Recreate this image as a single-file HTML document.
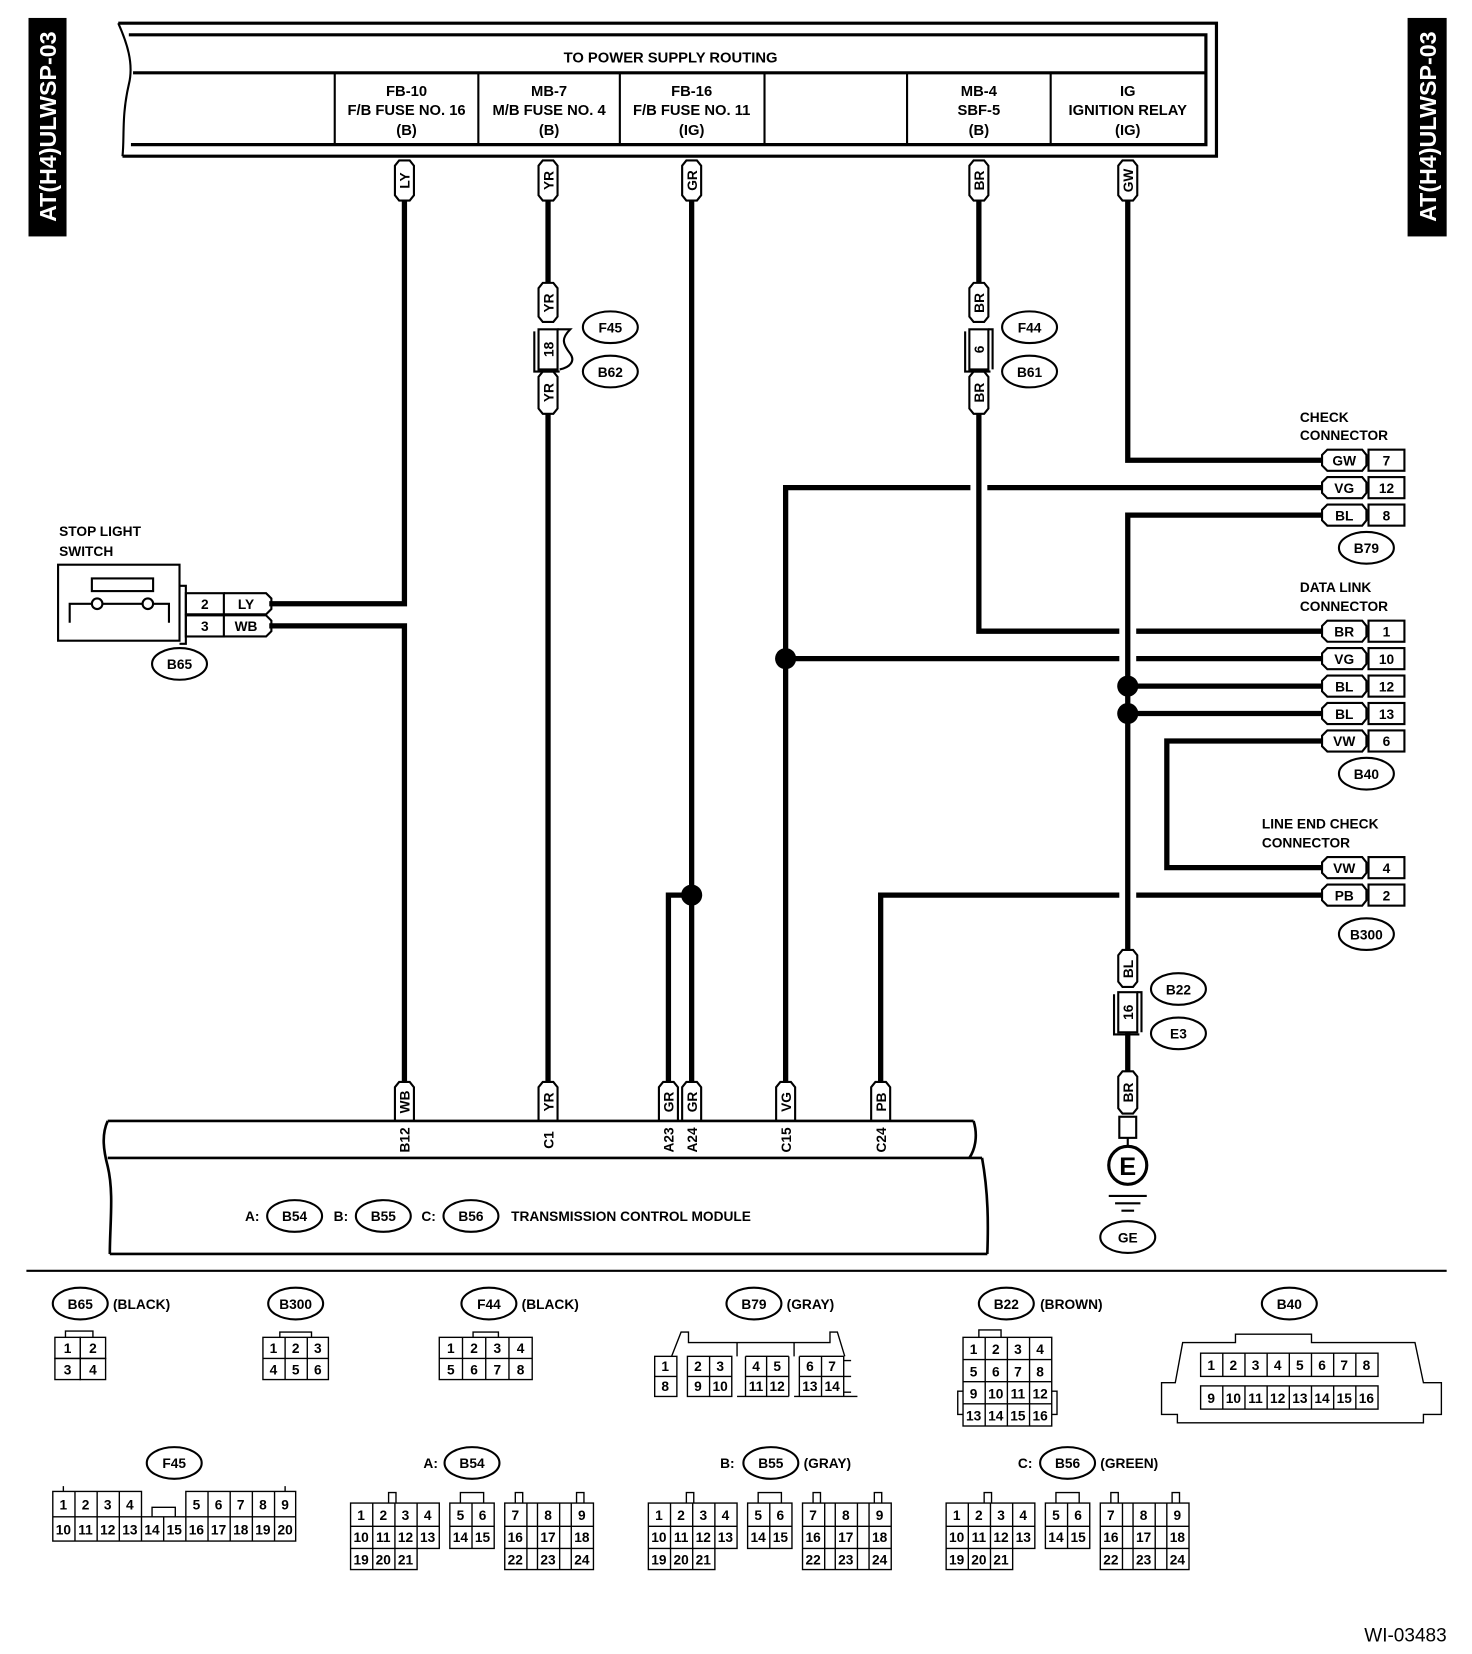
<!DOCTYPE html>
<html><head><meta charset="utf-8"><style>
html,body{margin:0;padding:0;background:#fff}
svg{display:block}
text{font-family:"Liberation Sans",sans-serif;font-weight:bold;fill:#000}
.h{font-size:14px}
.l{font-size:13px}
.c{font-size:13px;font-weight:normal}
.w{fill:#fff;font-size:22px}
</style></head><body>
<svg width="1472" height="1654" viewBox="0 0 1394 1567" preserveAspectRatio="none" xmlns="http://www.w3.org/2000/svg">
<rect x="0" y="0" width="1394" height="1567" fill="#fff"/>
<rect x="27" y="17" width="36" height="207" fill="#000"/>
<text class="w" transform="translate(53,120) rotate(-90)" text-anchor="middle">AT(H4)ULWSP-03</text>
<rect x="1333" y="17" width="37" height="207" fill="#000"/>
<text class="w" transform="translate(1360,120) rotate(-90)" text-anchor="middle">AT(H4)ULWSP-03</text>

<g fill="none" stroke="#000" stroke-width="3">
<path d="M112,22 H1152 V148 H116"/>
<path d="M122,33 H1142 V137 H124"/>
<path d="M126,69 H1142"/>
<path d="M112,22 C120,40 127,60 122,80 C115,110 118,130 116,148" stroke-width="2"/>
<path d="M317,69 V137 M453,69 V137 M587,69 V137 M724,69 V137 M859,69 V137 M995,69 V137" stroke-width="2"/>
</g>
<text class="h" x="635" y="59" text-anchor="middle">TO POWER SUPPLY ROUTING</text>
<g class="h" text-anchor="middle">
<text x="385" y="91">FB-10</text><text x="385" y="109">F/B FUSE NO. 16</text><text x="385" y="128">(B)</text>
<text x="520" y="91">MB-7</text><text x="520" y="109">M/B FUSE NO. 4</text><text x="520" y="128">(B)</text>
<text x="655" y="91">FB-16</text><text x="655" y="109">F/B FUSE NO. 11</text><text x="655" y="128">(IG)</text>
<text x="927" y="91">MB-4</text><text x="927" y="109">SBF-5</text><text x="927" y="128">(B)</text>
<text x="1068" y="91">IG</text><text x="1068" y="109">IGNITION RELAY</text><text x="1068" y="128">(IG)</text>
</g>

<g fill="none" stroke="#000" stroke-width="5">
<path d="M383,190 V572 H255"/>
<path d="M255,593 H383 V1025"/>
<path d="M519,190 V268 M519,392 V1025"/>
<path d="M655,190 V1025"/>
<path d="M655,848 H633 V1025"/>
<path d="M927,190 V268 M927,392 V598 H1060 M1076,598 H1252"/>
<path d="M1068,190 V436 H1252"/>
<path d="M1252,462 H935 M919,462 H744 V1025"/>
<path d="M744,624 H1060 M1076,624 H1252"/>
<path d="M1252,488 H1068 V900"/>
<path d="M1068,650 H1252 M1068,676 H1252"/>
<path d="M1252,702 H1105 V822 H1252"/>
<path d="M1252,848 H1076 M1060,848 H834 V1025"/>
<path d="M1068,978 V1015"/>
</g>
<g fill="#000">
<circle cx="655" cy="848" r="10"/><circle cx="744" cy="624" r="10"/>
<circle cx="1068" cy="650" r="10"/><circle cx="1068" cy="676" r="10"/>
</g>

<g fill="#fff" stroke="#000" stroke-width="2">
<polygon points="374,157 378,152 388,152 392,157 392,185 388,190 378,190 374,185"/>
<polygon points="510,157 514,152 524,152 528,157 528,185 524,190 514,190 510,185"/>
<polygon points="646,157 650,152 660,152 664,157 664,185 660,190 650,190 646,185"/>
<polygon points="918,157 922,152 932,152 936,157 936,185 932,190 922,190 918,185"/>
<polygon points="1059,157 1063,152 1073,152 1077,157 1077,185 1073,190 1063,190 1059,185"/>
<polygon points="510,273 514,268 524,268 528,273 528,300 524,305 514,305 510,300"/>
<polygon points="510,357 514,352 524,352 528,357 528,387 524,392 514,392 510,387"/>
<polygon points="918,273 922,268 932,268 936,273 936,300 932,305 922,305 918,300"/>
<polygon points="918,357 922,352 932,352 936,357 936,387 932,392 922,392 918,387"/>
<polygon points="1059,905 1063,900 1073,900 1077,905 1077,930 1073,935 1063,935 1059,930"/>
<polygon points="1059,1020 1063,1015 1073,1015 1077,1020 1077,1050 1073,1055 1063,1055 1059,1050"/>
<polygon points="374,1030 378,1025 388,1025 392,1030 392,1062 374,1062"/>
<polygon points="510,1030 514,1025 524,1025 528,1030 528,1062 510,1062"/>
<polygon points="624,1030 628,1025 638,1025 642,1030 642,1062 624,1062"/>
<polygon points="646,1030 650,1025 660,1025 664,1030 664,1062 646,1062"/>
<polygon points="735,1030 739,1025 749,1025 753,1030 753,1062 735,1062"/>
<polygon points="825,1030 829,1025 839,1025 843,1030 843,1062 825,1062"/>
</g>
<g class="l" text-anchor="middle">
<text transform="translate(388,171) rotate(-90)">LY</text>
<text transform="translate(524,171) rotate(-90)">YR</text>
<text transform="translate(660,171) rotate(-90)">GR</text>
<text transform="translate(932,171) rotate(-90)">BR</text>
<text transform="translate(1073,171) rotate(-90)">GW</text>
<text transform="translate(524,287) rotate(-90)">YR</text>
<text transform="translate(524,372) rotate(-90)">YR</text>
<text transform="translate(932,287) rotate(-90)">BR</text>
<text transform="translate(932,372) rotate(-90)">BR</text>
<text transform="translate(1073,918) rotate(-90)">BL</text>
<text transform="translate(1073,1035) rotate(-90)">BR</text>
<text transform="translate(388,1044) rotate(-90)">WB</text>
<text transform="translate(524,1044) rotate(-90)">YR</text>
<text transform="translate(638,1044) rotate(-90)">GR</text>
<text transform="translate(660,1044) rotate(-90)">GR</text>
<text transform="translate(749,1044) rotate(-90)">VG</text>
<text transform="translate(839,1044) rotate(-90)">PB</text>
</g>

<g fill="none" stroke="#000" stroke-width="2">
<rect x="510" y="312" width="18" height="38" fill="#fff"/>
<path d="M506,314 V352 H530 M528,312 H540 C532,320 532,325 540,335 C545,342 540,348 530,350"/>
<rect x="918" y="312" width="18" height="38" fill="#fff"/>
<path d="M914,314 V352 H938 M936,312 H940 V350"/>
<rect x="1059" y="940" width="18" height="38" fill="#fff"/>
<path d="M1055,942 V980 H1079 M1077,940 H1081 V978"/>
</g>
<text class="l" text-anchor="middle" transform="translate(524,331) rotate(-90)">18</text>
<text class="l" text-anchor="middle" transform="translate(932,331) rotate(-90)">6</text>
<text class="l" text-anchor="middle" transform="translate(1073,959) rotate(-90)">16</text>

<g fill="#fff" stroke="#000" stroke-width="2">
<ellipse cx="578" cy="310" rx="26" ry="15"/><ellipse cx="578" cy="352" rx="26" ry="15"/>
<ellipse cx="975" cy="310" rx="26" ry="15"/><ellipse cx="975" cy="352" rx="26" ry="15"/>
<ellipse cx="1294" cy="519" rx="26" ry="15"/><ellipse cx="1294" cy="733" rx="26" ry="15"/>
<ellipse cx="1294" cy="885" rx="26" ry="15"/><ellipse cx="1116" cy="937" rx="26" ry="15"/>
<ellipse cx="1116" cy="979" rx="26" ry="15"/><ellipse cx="170" cy="629" rx="26" ry="15"/>
<ellipse cx="1068" cy="1172" rx="26" ry="15"/>
<ellipse cx="279" cy="1152" rx="26" ry="15"/><ellipse cx="363" cy="1152" rx="26" ry="15"/><ellipse cx="446" cy="1152" rx="26" ry="15"/>
<ellipse cx="76" cy="1235" rx="26" ry="15"/><ellipse cx="280" cy="1235" rx="26" ry="15"/><ellipse cx="463" cy="1235" rx="26" ry="15"/>
<ellipse cx="714" cy="1235" rx="26" ry="15"/><ellipse cx="953" cy="1235" rx="26" ry="15"/><ellipse cx="1221" cy="1235" rx="26" ry="15"/>
<ellipse cx="165" cy="1386" rx="26" ry="15"/><ellipse cx="447" cy="1386" rx="26" ry="15"/><ellipse cx="730" cy="1386" rx="26" ry="15"/><ellipse cx="1011" cy="1386" rx="26" ry="15"/>
</g>
<g class="l" text-anchor="middle">
<text x="578" y="315">F45</text><text x="578" y="357">B62</text>
<text x="975" y="315">F44</text><text x="975" y="357">B61</text>
<text x="1294" y="524">B79</text><text x="1294" y="738">B40</text><text x="1294" y="890">B300</text>
<text x="1116" y="942">B22</text><text x="1116" y="984">E3</text><text x="170" y="634">B65</text>
<text x="1068" y="1177">GE</text>
<text x="279" y="1157">B54</text><text x="363" y="1157">B55</text><text x="446" y="1157">B56</text>
<text x="76" y="1240">B65</text><text x="280" y="1240">B300</text><text x="463" y="1240">F44</text>
<text x="714" y="1240">B79</text><text x="953" y="1240">B22</text><text x="1221" y="1240">B40</text>
<text x="165" y="1391">F45</text><text x="447" y="1391">B54</text><text x="730" y="1391">B55</text><text x="1011" y="1391">B56</text>
</g>

<text class="l" x="56" y="508">STOP LIGHT</text><text class="l" x="56" y="527">SWITCH</text>
<g fill="none" stroke="#000" stroke-width="2">
<rect x="55" y="535" width="115" height="72"/>
<rect x="87" y="548" width="58" height="12"/>
<path d="M66,590 V572 H87 M97,572 H135 M145,572 H160 V590"/>
<circle cx="92" cy="572" r="5" fill="#fff"/><circle cx="140" cy="572" r="5" fill="#fff"/>
<path d="M170,555 H176 V610 H170"/>
<rect x="176" y="562" width="36" height="20"/><rect x="176" y="583" width="36" height="20"/>
<path d="M212,562 H252 L257,567 V577 L252,582 H212 M212,583 H252 L257,588 V598 L252,603 H212"/>
</g>
<g class="l" text-anchor="middle"><text x="194" y="577">2</text><text x="194" y="598">3</text><text x="233" y="577">LY</text><text x="233" y="598">WB</text></g>

<g class="l">
<text x="1231" y="400">CHECK</text><text x="1231" y="417">CONNECTOR</text>
<text x="1231" y="561">DATA LINK</text><text x="1231" y="579">CONNECTOR</text>
<text x="1195" y="785">LINE END CHECK</text><text x="1195" y="803">CONNECTOR</text>
</g>
<g fill="#fff" stroke="#000" stroke-width="2">
<path d="M1257,426 H1290 L1294,431 V441 L1290,446 H1257 L1252,441 V431 Z"/><rect x="1296" y="426" width="34" height="20"/>
<path d="M1257,452 H1290 L1294,457 V467 L1290,472 H1257 L1252,467 V457 Z"/><rect x="1296" y="452" width="34" height="20"/>
<path d="M1257,478 H1290 L1294,483 V493 L1290,498 H1257 L1252,493 V483 Z"/><rect x="1296" y="478" width="34" height="20"/>
<path d="M1257,588 H1290 L1294,593 V603 L1290,608 H1257 L1252,603 V593 Z"/><rect x="1296" y="588" width="34" height="20"/>
<path d="M1257,614 H1290 L1294,619 V629 L1290,634 H1257 L1252,629 V619 Z"/><rect x="1296" y="614" width="34" height="20"/>
<path d="M1257,640 H1290 L1294,645 V655 L1290,660 H1257 L1252,655 V645 Z"/><rect x="1296" y="640" width="34" height="20"/>
<path d="M1257,666 H1290 L1294,671 V681 L1290,686 H1257 L1252,681 V671 Z"/><rect x="1296" y="666" width="34" height="20"/>
<path d="M1257,692 H1290 L1294,697 V707 L1290,712 H1257 L1252,707 V697 Z"/><rect x="1296" y="692" width="34" height="20"/>
<path d="M1257,812 H1290 L1294,817 V827 L1290,832 H1257 L1252,827 V817 Z"/><rect x="1296" y="812" width="34" height="20"/>
<path d="M1257,838 H1290 L1294,843 V853 L1290,858 H1257 L1252,853 V843 Z"/><rect x="1296" y="838" width="34" height="20"/>
</g>
<g class="l" text-anchor="middle">
<text x="1273" y="441">GW</text><text x="1313" y="441">7</text>
<text x="1273" y="467">VG</text><text x="1313" y="467">12</text>
<text x="1273" y="493">BL</text><text x="1313" y="493">8</text>
<text x="1273" y="603">BR</text><text x="1313" y="603">1</text>
<text x="1273" y="629">VG</text><text x="1313" y="629">10</text>
<text x="1273" y="655">BL</text><text x="1313" y="655">12</text>
<text x="1273" y="681">BL</text><text x="1313" y="681">13</text>
<text x="1273" y="707">VW</text><text x="1313" y="707">6</text>
<text x="1273" y="827">VW</text><text x="1313" y="827">4</text>
<text x="1273" y="853">PB</text><text x="1313" y="853">2</text>
</g>

<g fill="none" stroke="#000" stroke-width="2">
<rect x="1060" y="1058" width="16" height="20" fill="#fff"/>
<circle cx="1068" cy="1104" r="18" stroke-width="3" fill="#fff"/>
<path d="M1068,1078 V1086 M1050,1133 H1086 M1056,1140 H1080 M1062,1147 H1074"/>
</g>
<text x="1068" y="1113" text-anchor="middle" style="font-size:24px">E</text>

<g fill="none" stroke="#000" stroke-width="2.5">
<path d="M102,1062 H922 M102,1097 H930 M104,1188 H935"/>
<path d="M102,1062 C96,1075 98,1090 102,1105 C108,1130 104,1160 104,1188"/>
<path d="M922,1062 C926,1075 924,1088 918,1097 M930,1097 C936,1130 936,1160 935,1188"/>
</g>
<g class="l" text-anchor="middle">
<text transform="translate(388,1080) rotate(-90)">B12</text>
<text transform="translate(524,1080) rotate(-90)">C1</text>
<text transform="translate(638,1080) rotate(-90)">A23</text>
<text transform="translate(660,1080) rotate(-90)">A24</text>
<text transform="translate(749,1080) rotate(-90)">C15</text>
<text transform="translate(839,1080) rotate(-90)">C24</text>
</g>
<g class="l"><text x="232" y="1157">A:</text><text x="316" y="1157">B:</text><text x="399" y="1157">C:</text><text x="484" y="1157">TRANSMISSION CONTROL MODULE</text></g>
<path d="M25,1204 H1370" stroke="#000" stroke-width="2"/>

<g class="l">
<text x="107" y="1240">(BLACK)</text><text x="494" y="1240">(BLACK)</text><text x="745" y="1240">(GRAY)</text><text x="985" y="1240">(BROWN)</text>
<text x="401" y="1391">A:</text><text x="682" y="1391">B:</text><text x="761" y="1391">(GRAY)</text><text x="964" y="1391">C:</text><text x="1042" y="1391">(GREEN)</text>
</g>

<g fill="none" stroke="#000" stroke-width="1.3">
<rect x="52" y="1267" width="24" height="20"/><rect x="76" y="1267" width="24" height="20"/><rect x="52" y="1287" width="24" height="20"/><rect x="76" y="1287" width="24" height="20"/>
<path d="M62,1267 V1261 H88 V1267"/>
<rect x="249" y="1267" width="62" height="40"/><path d="M249,1287 H311 M270,1267 V1307 M291,1267 V1307 M265,1267 V1262 H295 V1267"/>
<rect x="416" y="1267" width="88" height="40"/><path d="M416,1287 H504 M438,1267 V1307 M460,1267 V1307 M482,1267 V1307 M448,1267 V1262 H472 V1267"/>
<path d="M636,1285 L645,1262 H652 V1272 H786 V1262 H793 L800,1285 M698,1272 V1285 M752,1272 V1285"/>
<rect x="620" y="1285" width="21" height="38"/><path d="M620,1304 H641"/>
<rect x="651" y="1285" width="42" height="38"/><path d="M651,1304 H693 M672,1285 V1323"/>
<path d="M698,1323 H747 M706,1285 V1323 M747,1285 V1323 M706,1285 H747 M706,1304 H747 M726,1285 V1323"/>
<path d="M752,1323 H812 M757,1285 H799 V1323 M757,1285 V1323 M757,1304 H799 M778,1285 V1323 M799,1289 H806 M799,1304 H806 M799,1319 H806"/>
<rect x="912" y="1267" width="84" height="84"/>
<path d="M912,1288 H996 M912,1309 H996 M912,1330 H996 M933,1267 V1351 M954,1267 V1351 M975,1267 V1351 M927,1267 V1260 H948 V1267 M912,1318 H907 V1340 H912 M996,1318 H1001 V1340 H996"/>
<path d="M1170,1272 V1264 H1242 V1272 H1340 L1348,1310 H1365 V1340 H1348 V1348 H1115 V1340 H1100 V1310 H1113 L1120,1272 Z"/>
<rect x="1137" y="1282" width="168" height="22"/><rect x="1137" y="1313" width="168" height="22"/>
<path d="M1158,1282 V1304 M1179,1282 V1304 M1200,1282 V1304 M1221,1282 V1304 M1242,1282 V1304 M1263,1282 V1304 M1284,1282 V1304 M1158,1313 V1335 M1179,1313 V1335 M1200,1313 V1335 M1221,1313 V1335 M1242,1313 V1335 M1263,1313 V1335 M1284,1313 V1335"/>
<path d="M50,1437 V1413 H134 V1437 M176,1437 V1413 H280 V1437 M71,1413 V1460 M92,1413 V1460 M113,1413 V1460 M134,1437 V1460 M197,1413 V1460 M218,1413 V1460 M239,1413 V1460 M260,1413 V1460 M50,1437 H280 V1460 H50 Z M155,1437 V1460 M176,1437 V1460 M144,1437 V1428 H166 V1437 M60,1413 V1408 M270,1413 V1408"/>
</g>
<g id="tc" fill="none" stroke="#000" stroke-width="1.3">
<path d="M332,1424 H416 V1467 H332 Z M332,1446 H416 M353,1424 V1487 M374,1424 V1487 M395,1424 V1467 M332,1467 V1487 H395 V1467"/>
<path d="M426,1424 H468 V1467 H426 Z M426,1446 H468 M447,1424 V1467"/>
<path d="M478,1424 H562 V1487 H478 Z M478,1446 H562 M478,1467 H562 M499,1424 V1487 M509,1424 V1487 M530,1424 V1487 M541,1424 V1487"/>
<path d="M368,1424 V1414 H375 V1424 M436,1424 V1414 H458 V1424 M488,1424 V1414 H495 V1424 M546,1424 V1414 H553 V1424"/>
</g>
<use href="#tc" x="282"/><use href="#tc" x="564"/>

<g class="c" text-anchor="middle">
<text x="64" y="1282">1</text><text x="88" y="1282">2</text><text x="64" y="1302">3</text><text x="88" y="1302">4</text>
<text x="259" y="1282">1</text><text x="280" y="1282">2</text><text x="301" y="1282">3</text><text x="259" y="1302">4</text><text x="280" y="1302">5</text><text x="301" y="1302">6</text>
<text x="427" y="1282">1</text><text x="449" y="1282">2</text><text x="471" y="1282">3</text><text x="493" y="1282">4</text><text x="427" y="1302">5</text><text x="449" y="1302">6</text><text x="471" y="1302">7</text><text x="493" y="1302">8</text>
<text x="630" y="1299">1</text><text x="661" y="1299">2</text><text x="682" y="1299">3</text><text x="716" y="1299">4</text><text x="736" y="1299">5</text><text x="767" y="1299">6</text><text x="788" y="1299">7</text>
<text x="630" y="1318">8</text><text x="661" y="1318">9</text><text x="682" y="1318">10</text><text x="716" y="1318">11</text><text x="736" y="1318">12</text><text x="767" y="1318">13</text><text x="788" y="1318">14</text>
<text x="922" y="1283">1</text><text x="943" y="1283">2</text><text x="964" y="1283">3</text><text x="985" y="1283">4</text>
<text x="922" y="1304">5</text><text x="943" y="1304">6</text><text x="964" y="1304">7</text><text x="985" y="1304">8</text>
<text x="922" y="1325">9</text><text x="943" y="1325">10</text><text x="964" y="1325">11</text><text x="985" y="1325">12</text>
<text x="922" y="1346">13</text><text x="943" y="1346">14</text><text x="964" y="1346">15</text><text x="985" y="1346">16</text>
<text x="1147" y="1298">1</text><text x="1168" y="1298">2</text><text x="1189" y="1298">3</text><text x="1210" y="1298">4</text><text x="1231" y="1298">5</text><text x="1252" y="1298">6</text><text x="1273" y="1298">7</text><text x="1294" y="1298">8</text>
<text x="1147" y="1329">9</text><text x="1168" y="1329">10</text><text x="1189" y="1329">11</text><text x="1210" y="1329">12</text><text x="1231" y="1329">13</text><text x="1252" y="1329">14</text><text x="1273" y="1329">15</text><text x="1294" y="1329">16</text>
<text x="60" y="1430">1</text><text x="81" y="1430">2</text><text x="102" y="1430">3</text><text x="123" y="1430">4</text><text x="186" y="1430">5</text><text x="207" y="1430">6</text><text x="228" y="1430">7</text><text x="249" y="1430">8</text><text x="270" y="1430">9</text>
<text x="60" y="1454">10</text><text x="81" y="1454">11</text><text x="102" y="1454">12</text><text x="123" y="1454">13</text><text x="144" y="1454">14</text><text x="165" y="1454">15</text><text x="186" y="1454">16</text><text x="207" y="1454">17</text><text x="228" y="1454">18</text><text x="249" y="1454">19</text><text x="270" y="1454">20</text>
</g>
<g class="c" text-anchor="middle">
<text x="342" y="1440">1</text><text x="363" y="1440">2</text><text x="384" y="1440">3</text><text x="405" y="1440">4</text><text x="436" y="1440">5</text><text x="457" y="1440">6</text><text x="488" y="1440">7</text><text x="519" y="1440">8</text><text x="551" y="1440">9</text>
<text x="342" y="1461">10</text><text x="363" y="1461">11</text><text x="384" y="1461">12</text><text x="405" y="1461">13</text><text x="436" y="1461">14</text><text x="457" y="1461">15</text><text x="488" y="1461">16</text><text x="519" y="1461">17</text><text x="551" y="1461">18</text>
<text x="342" y="1482">19</text><text x="363" y="1482">20</text><text x="384" y="1482">21</text><text x="488" y="1482">22</text><text x="519" y="1482">23</text><text x="551" y="1482">24</text>
<text x="624" y="1440">1</text><text x="645" y="1440">2</text><text x="666" y="1440">3</text><text x="687" y="1440">4</text><text x="718" y="1440">5</text><text x="739" y="1440">6</text><text x="770" y="1440">7</text><text x="801" y="1440">8</text><text x="833" y="1440">9</text>
<text x="624" y="1461">10</text><text x="645" y="1461">11</text><text x="666" y="1461">12</text><text x="687" y="1461">13</text><text x="718" y="1461">14</text><text x="739" y="1461">15</text><text x="770" y="1461">16</text><text x="801" y="1461">17</text><text x="833" y="1461">18</text>
<text x="624" y="1482">19</text><text x="645" y="1482">20</text><text x="666" y="1482">21</text><text x="770" y="1482">22</text><text x="801" y="1482">23</text><text x="833" y="1482">24</text>
<text x="906" y="1440">1</text><text x="927" y="1440">2</text><text x="948" y="1440">3</text><text x="969" y="1440">4</text><text x="1000" y="1440">5</text><text x="1021" y="1440">6</text><text x="1052" y="1440">7</text><text x="1083" y="1440">8</text><text x="1115" y="1440">9</text>
<text x="906" y="1461">10</text><text x="927" y="1461">11</text><text x="948" y="1461">12</text><text x="969" y="1461">13</text><text x="1000" y="1461">14</text><text x="1021" y="1461">15</text><text x="1052" y="1461">16</text><text x="1083" y="1461">17</text><text x="1115" y="1461">18</text>
<text x="906" y="1482">19</text><text x="927" y="1482">20</text><text x="948" y="1482">21</text><text x="1052" y="1482">22</text><text x="1083" y="1482">23</text><text x="1115" y="1482">24</text>
</g>
<text x="1370" y="1555" text-anchor="end" style="font-size:18px;font-weight:normal">WI-03483</text>
</svg>
</body></html>
